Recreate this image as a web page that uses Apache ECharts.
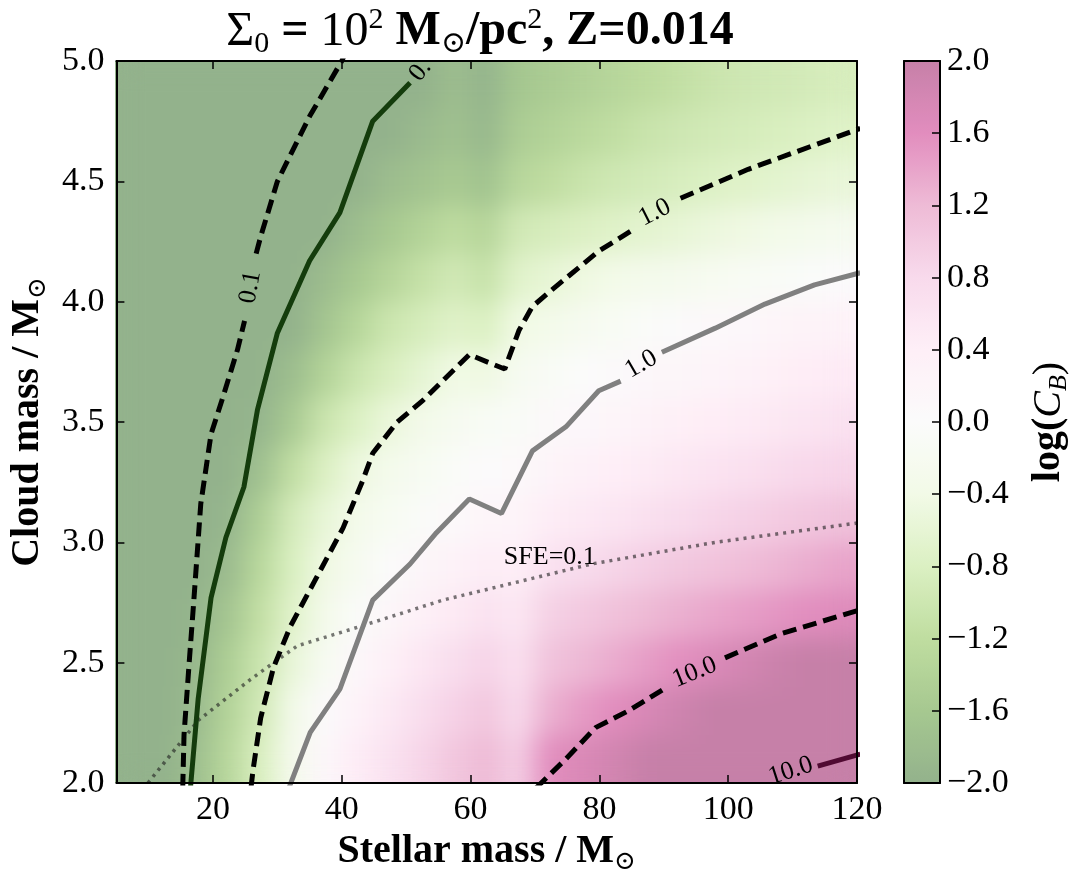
<!DOCTYPE html>
<html>
<head>
<meta charset="utf-8">
<script src="https://cdn.jsdelivr.net/npm/echarts@6/dist/echarts.min.js"></script>
<style>
  html, body { margin: 0; padding: 0; background: #fff; }
  #wrap { position: relative; width: 1083px; height: 887px; }
  /* the colour map sits under the axes chart; blurred like an interpolated image */
  #heat { position: absolute; left: 115px; top: 61px; width: 742px; height: 722px; filter: url(#smooth); }
  #chart { position: absolute; left: 0; top: 0; width: 1083px; height: 887px; }
</style>
</head>
<body>
<svg width="0" height="0" style="position:absolute">
  <filter id="smooth" x="0" y="0" width="1" height="1" color-interpolation-filters="sRGB">
    <feGaussianBlur stdDeviation="13"/>
    <feComponentTransfer><feFuncA type="table" tableValues="1 1"/></feComponentTransfer>
  </filter>
</svg>
<div id="wrap">
  <div id="heat"></div>
  <div id="chart"></div>
</div>
<script>
// cell centres of the log(C_B) map
const stellarMass = [7.5, 12.5, 17.5, 22.5, 27.5, 32.5, 37.5, 42.5, 47.5, 52.5, 57.5, 62.5,
    67.5, 72.5, 77.5, 82.5, 87.5, 92.5, 97.5, 102.5, 107.5, 112.5, 117.5];
const cloudMass = [2.1, 2.3, 2.5, 2.7, 2.9, 3.1, 3.3, 3.5, 3.7, 3.9, 4.1, 4.3, 4.5, 4.7, 4.9];

// log(C_B), one row per cloud mass (bottom to top)
const logCB = [
    [-2, -2, -1.76, -1.31, -0.82, -0.28, 0.12, 0.45, 0.65, 0.85, 1.05, 1.2, 0.95, 1.6, 1.72, 1.85, 1.99, 2, 2, 2, 2, 2, 2],
    [-2, -2, -1.85, -1.4, -0.94, -0.37, 0.05, 0.3, 0.52, 0.72, 0.9, 1.05, 0.8, 1.3, 1.48, 1.62, 1.75, 1.88, 2, 2, 2, 2, 2],
    [-2, -2, -1.9, -1.49, -1.04, -0.55, -0.18, 0.15, 0.36, 0.55, 0.72, 0.88, 0.68, 1.1, 1.22, 1.34, 1.46, 1.58, 1.7, 1.82, 1.93, 2, 2],
    [-2, -2, -1.95, -1.65, -1.15, -0.7, -0.33, -0.04, 0.18, 0.35, 0.5, 0.65, 0.55, 0.92, 1.02, 1.12, 1.21, 1.3, 1.38, 1.45, 1.52, 1.59, 1.66],
    [-2, -2, -2, -1.83, -1.29, -0.81, -0.44, -0.22, 0.0, 0.16, 0.3, 0.44, 0.4, 0.66, 0.77, 0.87, 0.95, 1.03, 1.1, 1.17, 1.24, 1.32, 1.4],
    [-2, -2, -2, -1.95, -1.47, -0.9, -0.57, -0.33, -0.19, -0.04, 0.08, 0.2, 0.22, 0.43, 0.51, 0.6, 0.69, 0.77, 0.85, 0.91, 0.98, 1.04, 1.11],
    [-2, -2, -2, -2, -1.74, -1.17, -0.79, -0.49, -0.31, -0.19, -0.06, 0.05, 0.08, 0.23, 0.32, 0.41, 0.48, 0.55, 0.62, 0.69, 0.76, 0.82, 0.86],
    [-2, -2, -2, -2, -1.95, -1.56, -1.03, -0.78, -0.53, -0.34, -0.23, -0.12, -0.08, 0.07, 0.14, 0.21, 0.29, 0.36, 0.43, 0.48, 0.54, 0.6, 0.66],
    [-2, -2, -2, -2, -2, -1.78, -1.4, -1.04, -0.82, -0.62, -0.42, -0.45, -0.21, -0.11, -0.01, 0.06, 0.12, 0.18, 0.24, 0.31, 0.37, 0.43, 0.49],
    [-2, -2, -2, -2, -2, -2, -1.65, -1.34, -1.02, -0.87, -0.72, -0.8, -0.42, -0.32, -0.23, -0.14, -0.05, 0.03, 0.09, 0.14, 0.2, 0.26, 0.31],
    [-2, -2, -2, -2, -2, -2, -1.82, -1.59, -1.35, -1.12, -0.94, -1.1, -0.7, -0.58, -0.46, -0.37, -0.31, -0.26, -0.2, -0.14, -0.09, -0.03, 0.03],
    [-2, -2, -2, -2, -2, -2, -2, -1.78, -1.59, -1.4, -1.21, -1.35, -0.94, -0.86, -0.79, -0.72, -0.65, -0.58, -0.51, -0.44, -0.37, -0.31, -0.25],
    [-2, -2, -2, -2, -2, -2, -2, -2, -1.8, -1.69, -1.56, -1.7, -1.31, -1.19, -1.06, -0.97, -0.91, -0.84, -0.78, -0.72, -0.66, -0.6, -0.55],
    [-2, -2, -2, -2, -2, -2, -2, -2, -2, -1.85, -1.72, -1.9, -1.5, -1.39, -1.28, -1.17, -1.06, -0.98, -0.93, -0.88, -0.83, -0.78, -0.73],
    [-2, -2, -2, -2, -2, -2, -2, -2, -2, -2, -1.8, -1.95, -1.62, -1.52, -1.43, -1.33, -1.24, -1.14, -1.05, -0.98, -0.94, -0.9, -0.86]
];

// contour lines [stellar mass, cloud mass]; null = gap for the inline label
const dashed01 = [[15.3, 1.98], [15.5, 2.2], [16.3, 2.5], [17.0, 2.75], [18.1, 3.16], [19.7, 3.45], [21.5, 3.6],
    [23.8, 3.8], [24.9, 3.92], null, [26.7, 4.2], [27.4, 4.27], [30.0, 4.5], [35.0, 4.77], [40.0, 5.0], [40.5, 5.03]];
const solid01 = [[16.5, 1.98], [17.7, 2.35], [19.7, 2.77], [22.0, 3.02], [24.8, 3.23], [26.9, 3.55], [30.0, 3.87],
    [35.0, 4.17], [39.7, 4.37], [44.8, 4.75], [50.6, 4.91]];
const dashed10 = [[25.9, 1.98], [26.2, 2.05], [27.4, 2.27], [29.4, 2.48], [32.0, 2.65], [36.2, 2.86], [40.2, 3.06],
    [43.3, 3.26], [44.8, 3.37], [48.6, 3.5], [52.6, 3.59], [56.0, 3.68], [59.8, 3.78], [65.3, 3.72], [67.5, 3.88],
    [69.6, 3.98], [72.2, 4.04], [79.9, 4.21], [85.3, 4.3], null, [92.6, 4.43], [103.1, 4.55], [120.5, 4.72]];
const solid10 = [[31.8, 1.98], [35.1, 2.21], [39.7, 2.39], [44.8, 2.76], [50.6, 2.91], [54.7, 3.04], [59.8, 3.18],
    [64.8, 3.12], [69.6, 3.38], [74.8, 3.48], [79.9, 3.63], [83.3, 3.67], null, [89.7, 3.79], [98.0, 3.89],
    [105.7, 3.99], [113.4, 4.07], [120.5, 4.12]];
const dashed100 = [[70.2, 1.98], [74.8, 2.1], [79.4, 2.23], [84.5, 2.3], [90.6, 2.4], null, [99.5, 2.52],
    [108.2, 2.62], [120.5, 2.72]];
const solid100 = [[113.9, 2.07], [120.5, 2.12]];
const sfeLine = [[9.9, 2.0], [17.7, 2.26], [25.8, 2.43], [33.1, 2.57], [42.8, 2.65], [55.7, 2.76], [78.8, 2.91],
    [98.0, 3.0], [120, 3.08]];

const contourLabels = [
    { text: '0.1', x: 25.8, y: 4.06, angle: 80 },
    { text: '0.', x: 52.2, y: 4.96, angle: 52 },
    { text: '1.0', x: 88.6, y: 4.37, angle: 27 },
    { text: '1.0', x: 86.5, y: 3.74, angle: 30 },
    { text: '10.0', x: 94.8, y: 2.46, angle: 22 },
    { text: '10.0', x: 109.7, y: 2.05, angle: 18 },
    { text: 'SFE=0.1', x: 72.3, y: 2.94, angle: 0 }
];

const xTicks = [20, 40, 60, 80, 100, 120];
// PiYG_r at half opacity on white, from log(C_B) = -2 to 2
const piygColors = ['#93b28c', '#a6c890', '#bfdda0', '#dbf0c2', '#f2fae7', '#fbfbfb',
    '#feeff7', '#f8daec', '#eebbd6', '#e28dbe', '#c680a8'];

const serif = "'Liberation Serif', 'DejaVu Serif', serif";

const heatData = [];
logCB.forEach((row, j) => row.forEach((v, i) => heatData.push([i, j, v])));

// colour map
const heatChart = echarts.init(document.getElementById('heat'));
heatChart.setOption({
    animation: false,
    grid: { left: 0, right: 0, top: 0, bottom: 0 },
    xAxis: { type: 'category', data: stellarMass, show: false },
    yAxis: { type: 'category', data: cloudMass, show: false },
    visualMap: { show: false, min: -2, max: 2, dimension: 2, inRange: { color: piygColors } },
    series: [{
        type: 'heatmap', data: heatData, silent: true,
        itemStyle: { borderWidth: 0 }, emphasis: { disabled: true }, progressive: 0
    }]
});

const gap = arr => arr.map(p => p === null ? ['-', '-'] : p);

function contour(data, color, type, width) {
    return {
        type: 'line', xAxisIndex: 0, yAxisIndex: 0, data: gap(data),
        symbol: 'none', silent: true, z: 3, connectNulls: false,
        lineStyle: { color: color, width: width, type: type }
    };
}

const tickStyle = { color: '#000', width: 1.5 };
const frameLine = { show: true, onZero: false, lineStyle: { color: '#000', width: 2 } };
const nameRich = {
    b: { fontSize: 40, fontWeight: 'bold', color: '#000', fontFamily: serif, lineHeight: 46 },
    i: { fontSize: 40, fontStyle: 'italic', color: '#000', fontFamily: serif, lineHeight: 46 },
    n: { fontSize: 40, color: '#000', fontFamily: serif, lineHeight: 46 },
    s: { fontSize: 26, color: '#000', fontFamily: serif, lineHeight: 26, verticalAlign: 'bottom' },
    si: { fontSize: 26, fontStyle: 'italic', color: '#000', fontFamily: serif, lineHeight: 26, verticalAlign: 'bottom' }
};

const option = {
    animation: false,
    backgroundColor: 'transparent',
    textStyle: { fontFamily: serif },
    grid: [
        { left: 115, top: 61, width: 742, height: 722 },
        { left: 904, top: 61, width: 36, height: 722 }
    ],
    xAxis: [
        {
            type: 'value', gridIndex: 0, min: 5, max: 120, position: 'bottom', z: 10,
            axisLine: frameLine,
            axisTick: { show: true, inside: true, length: 8, customValues: xTicks, lineStyle: tickStyle },
            axisLabel: { customValues: xTicks, fontSize: 34, color: '#000', margin: 10, fontFamily: serif },
            splitLine: { show: false },
            name: '{b|Stellar mass / M}{s|⊙}', nameLocation: 'middle', nameGap: 42,
            nameTextStyle: { rich: nameRich }
        },
        {
            type: 'value', gridIndex: 0, min: 5, max: 120, position: 'top', z: 10,
            axisLine: frameLine,
            axisTick: { show: true, inside: true, length: 8, customValues: xTicks, lineStyle: tickStyle },
            axisLabel: { show: false }, splitLine: { show: false }
        },
        {
            type: 'value', gridIndex: 1, min: 0, max: 1, position: 'bottom', z: 10,
            axisLine: frameLine, axisTick: { show: false }, axisLabel: { show: false }, splitLine: { show: false }
        },
        {
            type: 'value', gridIndex: 1, min: 0, max: 1, position: 'top', z: 10,
            axisLine: frameLine, axisTick: { show: false }, axisLabel: { show: false }, splitLine: { show: false }
        }
    ],
    yAxis: [
        {
            type: 'value', gridIndex: 0, min: 2, max: 5, interval: 0.5, position: 'left', z: 10,
            axisLine: frameLine,
            axisTick: { show: true, inside: true, length: 8, lineStyle: tickStyle },
            axisLabel: { fontSize: 34, color: '#000', margin: 12, fontFamily: serif, formatter: v => v.toFixed(1) },
            splitLine: { show: false },
            name: '{b|Cloud mass / M}{s|⊙}', nameLocation: 'middle', nameGap: 62, nameRotate: 90,
            nameTextStyle: { rich: nameRich }
        },
        {
            type: 'value', gridIndex: 0, min: 2, max: 5, interval: 0.5, position: 'right', z: 10,
            axisLine: frameLine,
            axisTick: { show: true, inside: true, length: 8, lineStyle: tickStyle },
            axisLabel: { show: false }, splitLine: { show: false }
        },
        {
            type: 'value', gridIndex: 1, min: -2, max: 2, interval: 0.4, position: 'left', z: 10,
            axisLine: frameLine, axisTick: { show: false }, axisLabel: { show: false }, splitLine: { show: false }
        },
        {
            type: 'value', gridIndex: 1, min: -2, max: 2, interval: 0.4, position: 'right', z: 10,
            axisLine: frameLine,
            axisTick: { show: true, inside: true, length: 8, lineStyle: tickStyle },
            axisLabel: {
                fontSize: 34, color: '#000', margin: 7, fontFamily: serif,
                formatter: v => {
                    const s = Math.abs(v).toFixed(1);
                    return v < -1e-9 ? '\u2212' + s : s;
                }
            },
            splitLine: { show: false },
            name: '{b|log(}{i|C}{si|B}{n|)}', nameLocation: 'middle', nameGap: 86, nameRotate: 90,
            nameTextStyle: { rich: nameRich }
        }
    ],
    // colour bar only; the map itself is drawn by heatChart with the same colours
    visualMap: {
        type: 'continuous', seriesIndex: [], min: -2, max: 2,
        left: 904, top: 61, itemWidth: 36, itemHeight: 722, padding: 0,
        calculable: false, hoverLink: false,
        inRange: { color: piygColors }
    },
    series: [
        contour(sfeLine, 'rgba(30,30,30,0.6)', [3, 5], 3.5),
        contour(dashed01, '#000', [14, 7], 5),
        contour(solid01, '#143c0c', 'solid', 5),
        contour(dashed10, '#000', [14, 7], 5),
        contour(solid10, '#808080', 'solid', 5),
        contour(dashed100, '#000', [14, 7], 5),
        contour(solid100, '#500a32', 'solid', 5)
    ]
};

const chart = echarts.init(document.getElementById('chart'));
chart.setOption(option);

const graphics = contourLabels.map(l => {
    const p = chart.convertToPixel({ gridIndex: 0 }, [l.x, l.y]);
    return {
        type: 'text', x: p[0], y: p[1], rotation: l.angle * Math.PI / 180, z: 20, silent: true,
        style: {
            text: l.text, fill: '#000', align: 'center', verticalAlign: 'middle',
            font: '26px ' + serif
        }
    };
});

// title with sub- and superscripts
graphics.push({
    type: 'text', x: 480, y: 32, z: 20, silent: true,
    style: {
        text: '{n|Σ}{s|0}{b| = }{n|10}{p|2}{b| M}{s|⊙}{b|/pc}{p|2}{b|, Z=0.014}',
        align: 'center', verticalAlign: 'middle', fill: '#000',
        rich: {
            n: { fontSize: 48, fontFamily: serif, lineHeight: 54, fill: '#000' },
            b: { fontSize: 48, fontFamily: serif, fontWeight: 'bold', lineHeight: 54, fill: '#000' },
            s: { fontSize: 30, fontFamily: serif, lineHeight: 30, verticalAlign: 'bottom', fill: '#000' },
            p: { fontSize: 30, fontFamily: serif, lineHeight: 30, verticalAlign: 'top', fill: '#000' }
        }
    }
});

chart.setOption({ graphic: graphics });
</script>
</body>
</html>
